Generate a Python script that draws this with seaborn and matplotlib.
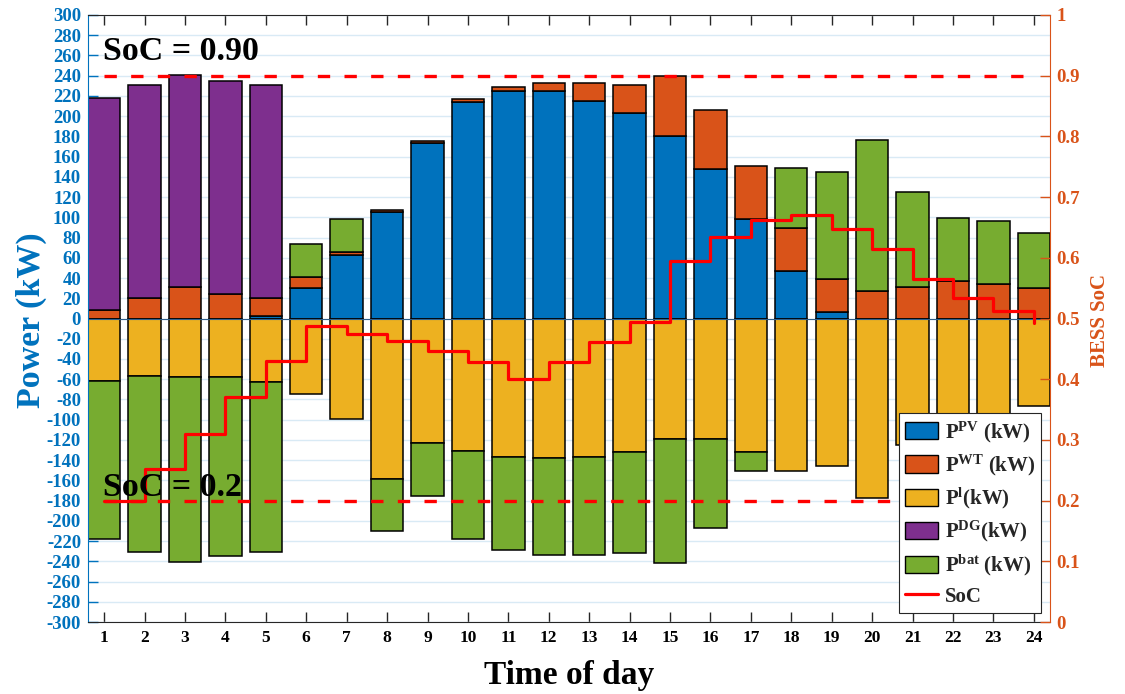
import numpy as np
import pandas as pd
import matplotlib
matplotlib.use("Agg")
import matplotlib.pyplot as plt
from matplotlib.patches import Patch
from matplotlib.lines import Line2D
import seaborn as sns

# ---- hourly dispatch data (kW) ----
hours = np.arange(1, 25)
p_pv = np.array([0, 0, 0, 0, 2, 30, 63, 105, 173, 214, 225, 225,
                 215, 203, 180, 148, 98, 47, 6, 0, 0, 0, 0, 0])
p_wt = np.array([8, 20, 31, 24, 18, 11, 3, 2, 2, 3, 4, 8,
                 18, 28, 60, 58, 53, 42, 33, 27, 31, 37, 34, 30])
p_dg = np.array([210, 211, 210, 211, 211, 0, 0, 0, 0, 0, 0, 0,
                 0, 0, 0, 0, 0, 0, 0, 0, 0, 0, 0, 0])
p_load = np.array([-62, -57, -58, -58, -63, -75, -99, -159, -123, -131, -137, -138,
                   -137, -132, -119, -119, -132, -151, -146, -177, -125, -100, -96, -86])
# battery power: positive = discharging, negative = charging
p_bat = np.array([-156, -174, -183, -177, -168, 33, 32, -51, -52, -87, -92, -96,
                  -97, -100, -123, -88, -19, 60, 106, 149, 94, 62, 62, 55])
# battery state of charge at the start of each hour
soc = np.array([0.200, 0.252, 0.309, 0.370, 0.430, 0.487, 0.475, 0.463, 0.446, 0.429,
                0.400, 0.429, 0.461, 0.494, 0.594, 0.634, 0.663, 0.670, 0.648, 0.614,
                0.565, 0.533, 0.513, 0.492])
soc_max, soc_min = 0.90, 0.20

c_pv, c_wt, c_load, c_dg, c_bat = "#0072BD", "#D95319", "#EDB120", "#7E2F8E", "#77AC30"
c_left, c_right = "#0072BD", "#D95319"

sns.set_style("ticks")
plt.rcParams.update({
    "font.family": ["Liberation Serif", "DejaVu Serif"],
    "font.weight": "bold",
    "axes.labelweight": "bold",
    "mathtext.fontset": "custom",
    "mathtext.rm": "Liberation Serif:bold",
    "mathtext.it": "Liberation Serif:bold",
    "mathtext.bf": "Liberation Serif:bold",
})

fig = plt.figure(figsize=(11.25, 6.94), dpi=100)
ax = fig.add_axes([0.0782, 0.1037, 0.9333 - 0.0782, 0.9784 - 0.1037])

bat_pos = np.clip(p_bat, 0, None)
bat_neg = np.clip(p_bat, None, 0)

# stacked layers: (values, bottoms, colour)
base_up = np.zeros(24)
layers = []
for vals, col in [(p_pv, c_pv), (p_wt, c_wt), (p_dg, c_dg), (bat_pos, c_bat)]:
    layers.append((vals, base_up.copy(), col))
    base_up = base_up + vals
base_dn = np.zeros(24)
for vals, col in [(p_load, c_load), (bat_neg, c_bat)]:
    layers.append((vals, base_dn.copy(), col))
    base_dn = base_dn + vals

for vals, bottoms, col in layers:
    mask = vals != 0
    d = pd.DataFrame({"hour": hours[mask], "power": vals[mask]})
    sns.barplot(data=d, x="hour", y="power", orient="x", native_scale=True,
                bottom=bottoms[mask], color=col, saturation=1, width=0.8,
                edgecolor="black", linewidth=1.1, errorbar=None, ax=ax, zorder=2)

ax.axhline(0, color="#2f5f8a", lw=0.8, zorder=2.5)

ax.set_xlim(0.6, 24.4)
ax.set_ylim(-300, 300)
ax.set_xticks(hours)
ax.set_xticklabels([str(h) for h in hours])
ax.set_yticks(np.arange(-300, 301, 20))
ax.set_yticklabels([str(v) for v in range(-300, 301, 20)])
ax.grid(axis="y", color="#D9EAF5", lw=1.0)
ax.set_axisbelow(True)
ax.tick_params(axis="x", direction="in", length=7, width=1, top=True, colors="#262626",
               labelsize=12.5, pad=6)
ax.tick_params(axis="y", direction="in", length=7, width=1, colors=c_left,
               labelsize=13.5, pad=5)
for lab in ax.get_xticklabels():
    lab.set_color("black")
ax.spines["left"].set_color(c_left)
ax.spines["top"].set_color("#262626")
ax.spines["bottom"].set_color("#262626")
ax.spines["right"].set_visible(False)

ax.set_xlabel("Time of day", fontsize=24, color="black")
ax.xaxis.set_label_coords(0.5, -0.062)
ax.set_ylabel("Power (kW)", fontsize=24.5, color=c_left)
ax.yaxis.set_label_coords(-0.043, 0.497)

# ---- state of charge on the right axis ----
ax2 = ax.twinx()
ax2.set_ylim(0, 1)
ax2.set_yticks(np.round(np.arange(0, 1.01, 0.1), 1))
ax2.set_yticklabels([f"{v:g}" for v in np.round(np.arange(0, 1.01, 0.1), 1)])
ax2.tick_params(axis="y", direction="in", length=7, width=1, colors=c_right,
                labelsize=13.5, pad=4.5)
for s in ["left", "top", "bottom"]:
    ax2.spines[s].set_visible(False)
ax2.spines["right"].set_color(c_right)
ax2.set_ylabel("BESS SoC", fontsize=15, color=c_right)
ax2.yaxis.set_label_coords(1.0416, 0.496)

for lvl in (soc_max, soc_min):
    ax2.plot([hours[0], hours[-1]], [lvl, lvl], color="#FF0000", lw=2.4,
             dashes=(3.7, 4.3), zorder=2)
sns.lineplot(x=hours, y=soc, drawstyle="steps-post", color="#FF0000", lw=2.3,
             estimator=None, ax=ax2, zorder=3)

ax2.text(0.98, 0.926, "SoC = 0.90", fontsize=24.5, color="black", va="baseline",
         transform=ax2.transData, zorder=4)
ax2.text(0.98, 0.208, "SoC = 0.2", fontsize=24.5, color="black", va="baseline",
         transform=ax2.transData, zorder=4)

handles = [
    Patch(facecolor=c_pv, edgecolor="black", lw=1),
    Patch(facecolor=c_wt, edgecolor="black", lw=1),
    Patch(facecolor=c_load, edgecolor="black", lw=1),
    Patch(facecolor=c_dg, edgecolor="black", lw=1),
    Patch(facecolor=c_bat, edgecolor="black", lw=1),
    Line2D([], [], color="#FF0000", lw=2.3),
]
labels = [r"$\mathrm{P}^{\mathrm{PV}}$ (kW)", r"$\mathrm{P}^{\mathrm{WT}}$ (kW)",
          r"$\mathrm{P}^{\mathrm{l}}$(kW)", r"$\mathrm{P}^{\mathrm{DG}}$(kW)",
          r"$\mathrm{P}^{\mathrm{bat}}$ (kW)", "SoC"]
leg = ax2.legend(handles, labels, loc="lower right", bbox_to_anchor=(0.991, 0.015),
                 fontsize=15, frameon=True, fancybox=False, edgecolor="#262626",
                 framealpha=1, handlelength=1.6, handleheight=0.9, handletextpad=0.3,
                 labelspacing=0.38, borderpad=0.3, borderaxespad=0)
leg.get_frame().set_linewidth(0.8)
leg.set_zorder(10)

fig.savefig("out.png", dpi=100)
